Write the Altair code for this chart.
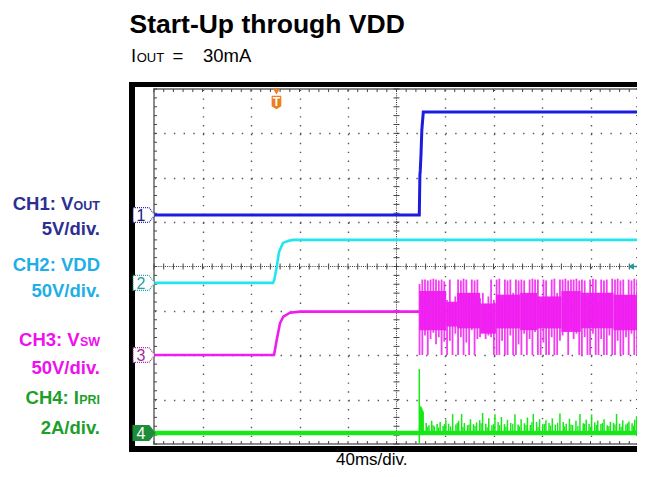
import altair as alt
import pandas as pd

# ---------------- values ----------------
# time base 40 ms/div over 10 divisions -> 0..400 ms ; screen has 8 vertical divisions
ch_ground = [5.16, 3.63, 2.006, 0.248]   # ground marker of CH1..CH4 (div from bottom)
ch_per_div = [5.0, 50.0, 50.0, 2.0]      # V/div, V/div, V/div, A/div

# CH1: VOUT (V)
ch1_t = [0, 218.8, 219.3, 219.6, 220.2, 220.9, 222.1, 400]
ch1_v = [0, 0, 4.5, 5.0, 6.8, 9.6, 11.6, 11.6]

# CH2: VDD (V)
ch2_t = [0, 98.1, 99.2, 101.2, 103.1, 106.4, 110.5, 114.6, 400]
ch2_v = [0, 0, 3.4, 18.0, 34.9, 45.1, 47.3, 48.5, 48.5]

# CH3: VSW (V) before switching starts
ch3_t = [0, 99.0, 101.2, 103.9, 106.6, 112.2, 120.4, 218.8]
ch3_v = [0, 0, 16.9, 35.7, 43.2, 47.7, 48.8, 48.8]

# CH3 switching spikes (time ms, max V, min V)
sw_t = [219.0, 221.3,
        223.5, 225.8, 228.1, 230.4, 232.6, 234.9, 237.2, 239.4,
        241.7, 244.0, 246.2, 248.5,
        250.8, 253.1, 255.3, 257.6, 259.9, 262.1, 264.4, 266.7,
        268.9, 271.2, 273.5, 275.8, 278.0, 280.3,
        282.6, 284.8, 287.1, 289.4, 291.6, 293.9, 296.2, 298.5, 300.7,
        303.0, 305.3, 307.5, 309.8, 312.1, 314.3,
        316.6, 318.9, 321.2, 323.4, 325.7, 328.0, 330.2, 332.5, 334.8,
        337.0, 339.3, 341.6, 343.9, 346.1, 348.4, 350.7,
        352.9, 355.2, 357.5, 359.7, 362.0, 364.3, 366.6, 368.8, 371.1, 373.4, 375.6, 377.9,
        380.2, 382.4, 384.7, 387.0, 389.3, 391.5, 393.8, 396.1, 398.4]
sw_hi = [80, 85,
         85, 84, 85, 86, 85, 84, 85, 83,
         62, 85, 58, 66,
         85, 84, 86, 85, 70, 85, 84, 85,
         64, 70, 58, 66, 85, 62,
         85, 86, 62, 85, 84, 85, 70, 85, 84,
         85, 84, 68, 85, 86, 85,
         85, 60, 85, 84, 64, 85, 86, 70, 85,
         85, 86, 84, 85, 85, 86, 84,
         85, 84, 66, 85, 86, 85, 60, 85, 84, 85, 70, 86,
         85, 86, 84, 85, 66, 85, 84, 86, 85]
sw_lo = [0, 0,
         22, 0, 18, 25, 12, 20, 0, 15,
         0, 16, 0, 24,
         0, 20, 0, 14, 0, 28, 0, 18,
         20, 26, 18, 22, 20, 0,
         0, 0, 16, 0, 0, 22, 0, 0, 12,
         0, 24, 0, 18, 0, 26,
         0, 0, 14, 0, 0, 20, 0, 0, 16,
         22, 26, 0, 30, 18, 24, 0,
         0, 20, 0, 0, 24, 0, 0, 18, 0, 0, 22, 0,
         0, 16, 0, 0, 20, 0, 24, 0, 0]
# dense core of the switching waveform (segments)
core_t0 = [218.8, 241.0, 250.0, 269.0, 282.0, 302.0, 316.0, 336.0, 352.0, 379.0]
core_t1 = [241.0, 250.0, 269.0, 282.0, 302.0, 316.0, 336.0, 352.0, 379.0, 399.4]
core_lo = [28, 32, 30, 24, 30, 28, 30, 26, 30, 28]
core_hi = [72, 60, 70, 58, 68, 70, 66, 72, 70, 68]

# CH4: IPRI (A)
ch4_t = [0, 400]
ch4_v = [0, 0]
pk_t = [218.8]
pk_lo = [-0.46]
pk_hi = [2.88]
bump_t = [219.4, 220.0, 220.6, 221.2, 221.8]
bump_v = [1.19, 1.19, 1.12, 1.04, 0.96]
ipk_t = [224.5, 226.8, 229.0, 231.2, 233.5, 236.0, 238.4, 240.7, 243.0, 246.3,
         249.0, 251.2, 253.7, 256.0, 258.6, 261.0, 263.5, 266.0, 268.6, 271.0,
         273.6, 276.1, 278.7, 281.2, 283.8, 286.5, 289.0, 291.5, 294.2, 297.7,
         300.3, 302.8, 305.5, 308.0, 310.4, 312.8, 315.5, 318.0, 320.6, 323.2,
         325.8, 328.5, 331.0, 334.8, 337.5, 340.0, 342.6, 345.2, 348.0, 351.3,
         354.0, 356.5, 358.8, 360.9, 363.5, 366.0, 368.6, 371.2, 373.8, 376.4,
         379.0, 381.5, 384.0, 386.6, 389.2, 391.7, 394.3, 396.5, 398.0]
ipk_v = [0.45, 0.35, 0.55, 0.30, 0.40, 0.50, 0.32, 0.60, 0.42, 0.85,
         0.38, 0.55, 0.86, 0.45, 0.35, 0.62, 0.40, 0.48, 0.58, 0.90,
         0.42, 0.66, 0.35, 0.84, 0.50, 0.72, 0.40, 0.60, 0.45, 0.85,
         0.38, 0.62, 0.44, 0.70, 0.36, 0.86, 0.50, 0.62, 0.40, 0.58,
         0.45, 0.66, 0.38, 0.88, 0.50, 0.42, 0.64, 0.36, 0.55, 0.86,
         0.44, 0.60, 0.40, 0.84, 0.48, 0.56, 0.40, 0.62, 0.35, 0.50,
         0.45, 0.86, 0.42, 0.58, 0.38, 0.52, 0.44, 0.60, 0.75]
# smaller in-between current spikes
ipk2_t = [225.6, 230.1, 234.7, 239.5, 244.6, 250.1, 254.8, 259.8, 264.7, 269.8,
          274.8, 280.0, 285.1, 290.2, 295.9, 301.5, 306.8, 311.6, 316.7, 321.9,
          327.1, 332.9, 338.7, 343.9, 349.6, 355.2, 359.9, 364.8, 369.9, 375.1,
          380.2, 385.3, 390.4, 395.4]
ipk2_v = [0.28, 0.36, 0.25, 0.40, 0.30, 0.45, 0.27, 0.38, 0.32, 0.44,
          0.26, 0.40, 0.35, 0.28, 0.42, 0.30, 0.36, 0.48, 0.27, 0.40,
          0.33, 0.46, 0.29, 0.38, 0.31, 0.42, 0.27, 0.36, 0.45, 0.30,
          0.38, 0.28, 0.44, 0.33]

trigger_t = [101.0]
trigger_level_div = [4.0]

# ---------------- layout ----------------
W, H = 485, 355          # scope graticule area
X0, Y0 = 154, 89         # its page position
one = pd.DataFrame({"k": [0]})

xs = alt.Scale(domain=[0, 400], nice=False, zero=False)
ys = alt.Scale(domain=[0, 8], nice=False, zero=False)
AX = alt.Axis(values=[40, 80, 120, 160, 240, 280, 320, 360], grid=True, gridDash=[1.4, 7.475],
              gridColor="#555555", gridWidth=1.4, labels=False, ticks=False, domain=False, title=None)
AY = alt.Axis(values=[1, 2, 3, 5, 6, 7], grid=True, gridDash=[1.4, 8.3],
              gridColor="#555555", gridWidth=1.4, labels=False, ticks=False, domain=False, title=None)


def X(f):
    return alt.X(f, type="quantitative", scale=xs, axis=AX)


def Y(f):
    return alt.Y(f, type="quantitative", scale=ys, axis=AY)


def to_div(ch, vals):
    return [ch_ground[ch] + v / ch_per_div[ch] for v in vals]


def prect(x1, y1, x2, y2, **kw):
    return alt.Chart(one).mark_rect(**kw).encode(
        x=alt.value(x1 - X0), x2=alt.value(x2 - X0), y=alt.value(y1 - Y0), y2=alt.value(y2 - Y0))


def txt(s, x, y, size, color="black", weight="normal", align="left", font="Liberation Sans"):
    return alt.Chart(pd.DataFrame({"s": [s]})).mark_text(
        align=align, baseline="alphabetic", fontSize=size, fontWeight=weight, color=color, font=font
    ).encode(x=alt.value(x - X0), y=alt.value(y - Y0), text="s:N")


def trace(ch, t, v, color, width):
    df = pd.DataFrame({"t": t, "d": to_div(ch, v)})
    return alt.Chart(df).mark_line(color=color, strokeWidth=width, strokeJoin="miter").encode(x=X("t"), y=Y("d"))


def spikes(ch, t, v, color, width):
    df = pd.DataFrame({"t": t, "lo": to_div(ch, [0] * len(t)), "hi": to_div(ch, v)})
    return alt.Chart(df).mark_rule(color=color, strokeWidth=width).encode(x=X("t"), y=Y("lo"), y2=alt.Y2("hi"))


layers = []

# grid carrier (invisible)
layers.append(alt.Chart(pd.DataFrame({"t": [0], "d": [0]})).mark_point(opacity=0).encode(x=X("t"), y=Y("d")))

# black frame of the screen capture
layers.append(prect(129, 82, 135, 452, color="black"))
layers.append(prect(129, 82, 638, 87, color="black"))
layers.append(prect(129, 446, 638, 452, color="black"))
# graticule border
layers.append(prect(154, 89, 639, 444, fillOpacity=0, stroke="#8c8c8c", strokeWidth=2))

# centre cross lines
layers.append(alt.Chart(pd.DataFrame({"t": [200], "a": [0], "b": [8]})).mark_rule(
    color="#333333", strokeDash=[1, 1.2], strokeWidth=1).encode(x=X("t"), y=Y("a"), y2=alt.Y2("b")))
layers.append(alt.Chart(pd.DataFrame({"a": [0], "b": [400], "d": [4]})).mark_rule(
    color="#333333", strokeDash=[1, 1.2], strokeWidth=1).encode(x=X("a"), x2=alt.X2("b"), y=Y("d")))

# minor ticks (graticule, 0.2 div)
tick_t = pd.DataFrame({"t": [i * 8 for i in range(51)]})
tick_d = pd.DataFrame({"d": [i * 0.2 for i in range(41)]})
cx, cy = W / 2, H / 2
for (a, b) in [(cy - 3, cy + 3), (0, 3), (H - 3, H)]:
    layers.append(alt.Chart(tick_t).mark_rule(color="#444444", strokeWidth=1).encode(
        x=X("t"), y=alt.value(a), y2=alt.value(b)))
for (a, b) in [(cx - 3, cx + 3), (0, 3), (W - 3, W)]:
    layers.append(alt.Chart(tick_d).mark_rule(color="#444444", strokeWidth=1).encode(
        y=Y("d"), x=alt.value(a), x2=alt.value(b)))

# ---- traces ----
C1, C2, C3, C4 = "#1c1ce0", "#22e6ee", "#f01cf0", "#17e817"
layers.append(trace(1, ch2_t, ch2_v, C2, 2.6))

# CH3
layers.append(trace(2, ch3_t, ch3_v, C3, 2.6))
core = pd.DataFrame({"a": core_t0, "b": core_t1, "lo": to_div(2, core_lo), "hi": to_div(2, core_hi)})
layers.append(alt.Chart(core).mark_rect(color=C3, opacity=0.95).encode(
    x=X("a"), x2=alt.X2("b"), y=Y("lo"), y2=alt.Y2("hi")))
sw = pd.DataFrame({"t": sw_t, "lo": to_div(2, sw_lo), "hi": to_div(2, sw_hi)})
layers.append(alt.Chart(sw).mark_rule(color=C3, strokeWidth=1.8, opacity=0.85).encode(
    x=X("t"), y=Y("lo"), y2=alt.Y2("hi")))

# CH1
layers.append(trace(0, ch1_t, ch1_v, C1, 3))

# CH4
layers.append(trace(3, ch4_t, ch4_v, C4, 4.5))
pk = pd.DataFrame({"t": pk_t, "lo": to_div(3, pk_lo), "hi": to_div(3, pk_hi)})
layers.append(alt.Chart(pk).mark_rule(color=C4, strokeWidth=1.5).encode(x=X("t"), y=Y("lo"), y2=alt.Y2("hi")))
layers.append(spikes(3, bump_t, bump_v, C4, 2))
layers.append(spikes(3, ipk_t, ipk_v, C4, 1.5))
layers.append(spikes(3, ipk2_t, ipk2_v, C4, 1.3))

# ---- channel ground markers ----
PENT = "M-1,-0.68 L0.45,-0.68 L1,0 L0.45,0.68 L-1,0.68 Z"
mk_stroke = ["#2a2aa0", "#2a9f9f", "#a0309a", "#1e8c3a"]
mk_fill = ["white", "white", "white", "#1e8c3a"]
mk_text = ["#20208a", "#2a9f9f", "#a0309a", "white"]
for i in range(4):
    d = pd.DataFrame({"d": [ch_ground[i]], "s": [str(i + 1)]})
    layers.append(alt.Chart(d).mark_point(shape=PENT, size=480, filled=True, fill=mk_fill[i], stroke=mk_stroke[i],
                                          strokeWidth=1.2, strokeDash=[1, 1] if i < 3 else [1, 0], opacity=1).encode(
        x=alt.value(-10), y=Y("d")))
    layers.append(alt.Chart(d).mark_text(fontSize=16, color=mk_text[i], font="Liberation Sans", baseline="middle",
                                         align="center", dy=1).encode(x=alt.value(-13), y=Y("d"), text="s:N"))

# ---- trigger markers ----
OR = "#f07d1e"
tr = pd.DataFrame({"t": trigger_t, "s": ["T"]})
layers.append(alt.Chart(tr).mark_point(shape="triangle-down", size=50, filled=True, color=OR, opacity=1).encode(
    x=X("t"), y=alt.value(2.5)))
SHIELD = "M-0.72,-1 L0.72,-1 L0.72,0.55 L0,1 L-0.72,0.55 Z"
layers.append(alt.Chart(tr).mark_point(shape=SHIELD, size=180, filled=True, color=OR, opacity=1).encode(
    x=X("t"), y=alt.value(13.5)))
layers.append(alt.Chart(tr).mark_text(fontSize=12, fontWeight="bold", color="white", font="Liberation Sans",
                                      baseline="middle").encode(x=X("t"), y=alt.value(13), text="s:N"))
tl = pd.DataFrame({"d": trigger_level_div})
layers.append(alt.Chart(tl).mark_point(shape="triangle-left", size=45, filled=True, color="#1a9a9a", opacity=1).encode(
    x=alt.value(W - 8), y=Y("d")))
layers.append(alt.Chart(tl).mark_rule(color="#1a9a9a", strokeWidth=1.5).encode(
    x=alt.value(W - 7), x2=alt.value(W - 1), y=Y("d")))

# ---- texts ----
layers.append(txt("Start-Up through VDD", 129.5, 33, 26.5, weight="bold"))
layers.append(txt("I", 131, 62, 18.5))
layers.append(txt("OUT", 136.7, 62, 13))
layers.append(txt("=", 172.5, 62, 18.5))
layers.append(txt("30mA", 203, 62, 18.5))
layers.append(txt("40ms/div.", 336, 465, 17))

L1, L2, L3, L4 = "#2d2f92", "#1eaee8", "#ee10ee", "#1e9e2a"
R = 100
layers.append(txt("CH1: V", R - 26.6, 210, 18.5, L1, "bold", "right"))
layers.append(txt("OUT", R - 26.4, 210, 12.5, L1, "bold"))
layers.append(txt("5V/div.", R, 235, 18.5, L1, "bold", "right"))
layers.append(txt("CH2: VDD", R, 271, 18.5, L2, "bold", "right"))
layers.append(txt("50V/div.", R, 297, 18.5, L2, "bold", "right"))
layers.append(txt("CH3: V", R - 20.3, 346, 18.5, L3, "bold", "right"))
layers.append(txt("SW", R - 20.1, 346, 12.5, L3, "bold"))
layers.append(txt("50V/div.", R, 374, 18.5, L3, "bold", "right"))
layers.append(txt("CH4: I", R - 21.0, 404, 18.5, L4, "bold", "right"))
layers.append(txt("PRI", R - 20.8, 404, 12.5, L4, "bold"))
layers.append(txt("2A/div.", R, 434, 18.5, L4, "bold", "right"))

chart = alt.layer(*layers).properties(
    width=W, height=H,
    autosize=alt.AutoSizeParams(type="none"),
    padding={"left": X0 - 8, "top": Y0 - 8, "right": -2, "bottom": 25},
).configure_view(stroke="transparent")

chart.save("out.html", embed_options={"renderer": "svg", "actions": False})
